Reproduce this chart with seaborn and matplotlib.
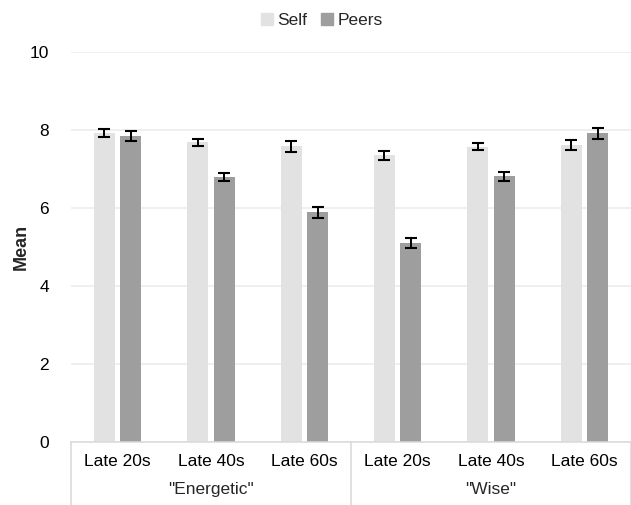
import matplotlib
matplotlib.use("Agg")

import matplotlib.pyplot as plt
import matplotlib.transforms as mtransforms
import pandas as pd
import seaborn as sns

# data
traits = ['"Energetic"', '"Wise"']
ages = ["Late 20s", "Late 40s", "Late 60s"]
raters = ["Self", "Peers"]
self_means = [7.92, 7.68, 7.58, 7.35, 7.57, 7.62]
peer_means = [7.85, 6.79, 5.89, 5.11, 6.81, 7.92]
self_err = [0.11, 0.09, 0.14, 0.11, 0.09, 0.13]
peer_err = [0.12, 0.10, 0.145, 0.13, 0.11, 0.14]
colors = {"Self": "#e2e2e2", "Peers": "#9e9e9e"}

slots = [f"{t}|{a}" for t in traits for a in ages]
df = pd.DataFrame({
    "slot": slots * 2,
    "rater": ["Self"] * 6 + ["Peers"] * 6,
    "mean": self_means + peer_means,
    "err": self_err + peer_err,
})

sns.set_style("white")
plt.rcParams["font.family"] = ["Liberation Sans", "DejaVu Sans"]
plt.rcParams["font.size"] = 12.5

fig = plt.figure(figsize=(6.31, 5.05), dpi=100)
ax = fig.add_axes([71 / 631, 1 - 442 / 505, 1 - 71 / 631, 390 / 505])

sns.barplot(
    data=df, x="slot", y="mean", hue="rater", order=slots, hue_order=raters,
    palette=colors, width=0.57, gap=0.21, linewidth=0, errorbar=None,
    legend=False, ax=ax, zorder=2,
)

# error bars placed on the bars drawn by seaborn
for container, rater in zip(ax.containers, raters):
    sub = df[df["rater"] == rater].set_index("slot").loc[slots]
    xs = [p.get_x() + p.get_width() / 2 for p in container.patches]
    ax.errorbar(xs, sub["mean"], yerr=sub["err"], fmt="none", ecolor="black",
                elinewidth=1.4, capsize=4.5, capthick=1.5, zorder=3)

ax.set_ylim(0, 10)
ax.set_yticks(range(0, 11, 2))
ax.grid(axis="y", color="#ebebeb", linewidth=1.1, zorder=0)
ax.set_axisbelow(True)
for side in ["left", "right", "top"]:
    ax.spines[side].set_visible(False)
ax.spines["bottom"].set_color("#d9d9d9")
ax.spines["bottom"].set_linewidth(1.1)
ax.tick_params(axis="both", length=0, colors="black")
ax.tick_params(axis="y", pad=16)
ax.tick_params(axis="x", pad=9)
ax.set_xticks(range(len(slots)))
ax.set_xticklabels([s.split("|")[1] for s in slots])
ax.set_xlim(-0.5, len(slots) - 0.5)
ax.set_xlabel("")
ax.set_ylabel("Mean", fontweight="bold", fontsize=13)
ax.yaxis.set_label_coords(-0.074, 0.5)

# second level of category labels with dividers
trans = mtransforms.blended_transform_factory(ax.transData, ax.transAxes)
for i, t in enumerate(traits):
    ax.text(i * 3 + 1, -0.123, t, transform=trans, ha="center", va="center")
for xb in [-0.5, 2.5, 5.5]:
    ax.plot([xb, xb], [0, -0.165], transform=trans, color="#d9d9d9",
            linewidth=1.1, clip_on=False)

handles = [plt.Rectangle((0, 0), 1, 1, color=colors[r]) for r in raters]
fig.legend(handles, raters, loc="center", bbox_to_anchor=(0.51, 0.96), ncol=2,
           frameon=False, handlelength=0.7, handleheight=0.7, handletextpad=0.25,
           columnspacing=0.8, fontsize=12.5)

fig.savefig("out.png", dpi=100)
plt.close(fig)
